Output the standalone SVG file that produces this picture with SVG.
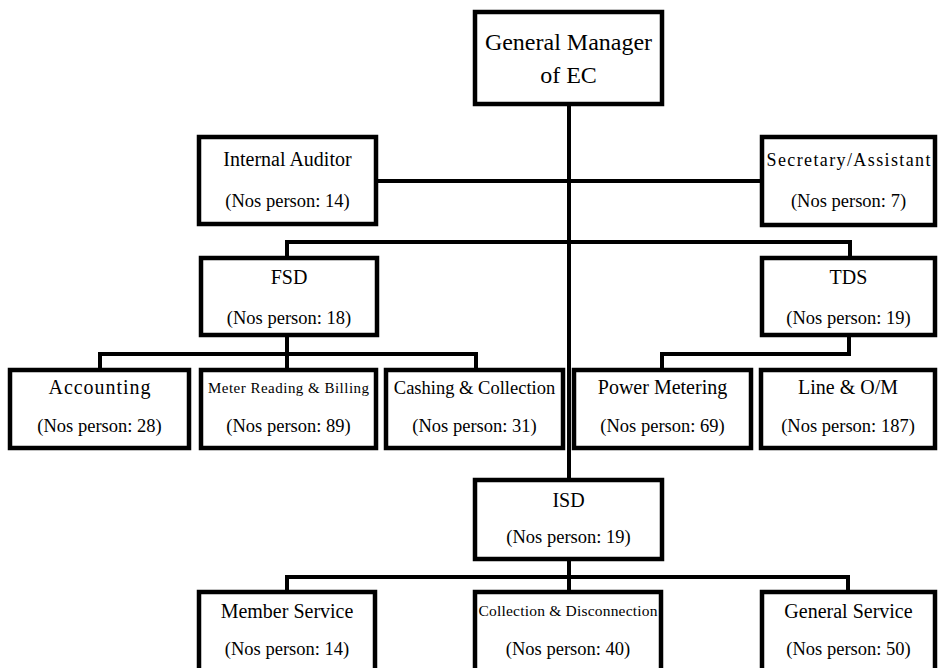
<svg xmlns="http://www.w3.org/2000/svg" width="938" height="668" viewBox="0 0 938 668" font-family="'Liberation Serif', Tinos, 'Times New Roman', Times, 'DejaVu Serif', serif">
  <style>
    .box { fill: #fff; stroke: #000; stroke-width: 4.5; }
    .wire { fill: none; stroke: #000; stroke-width: 4; stroke-linecap: butt; }
    text { font-family: "Liberation Serif", Tinos, "Times New Roman", Times, "DejaVu Serif", serif; fill: #000; text-anchor: middle; }
    .title { font-size: 20px; }
    .small { font-size: 16px; }
    .count { font-size: 18.5px; }
    .head { font-size: 24px; }
  </style>
  <rect width="938" height="668" fill="#fff"/>

  <!-- connectors -->
  <g id="connectors" class="wire">
    <path d="M569 104 V480"/>
    <path d="M376 181 H762"/>
    <path d="M287 242 H850 M287 240 V258 M850 240 V258"/>
    <path d="M287 335 V354 M98 354 H478 M100 352 V370 M287 352 V370 M476 352 V370"/>
    <path d="M849 335 V354 M660 354 H851 M662 352 V370"/>
    <path d="M569 559 V577 M285 577 H850 M287 575 V592 M569 575 V592 M848 575 V592"/>
  </g>

  <g id="general-manager">
    <rect class="box" x="475" y="12" width="187" height="92"/>
    <text class="head" x="568.5" y="50">General Manager</text>
    <text class="head" x="568.5" y="83">of EC</text>
  </g>

  <g id="internal-auditor">
    <rect class="box" x="199" y="137" width="177" height="87"/>
    <text class="title" x="287.5" y="166">Internal Auditor</text>
    <text class="count" x="287.5" y="207">(Nos person: 14)</text>
  </g>

  <g id="secretary">
    <rect class="box" x="762" y="137" width="173" height="88"/>
    <text class="title" x="848.5" y="166" textLength="164" lengthAdjust="spacing" style="font-size:18px">Secretary/Assistant</text>
    <text class="count" x="848.5" y="207">(Nos person: 7)</text>
  </g>

  <g id="fsd">
    <rect class="box" x="201" y="258" width="176" height="77"/>
    <text class="title" x="289" y="284">FSD</text>
    <text class="count" x="289" y="324">(Nos person: 18)</text>
  </g>

  <g id="tds">
    <rect class="box" x="762" y="258" width="173" height="77"/>
    <text class="title" x="848.5" y="284">TDS</text>
    <text class="count" x="848.5" y="324">(Nos person: 19)</text>
  </g>

  <g id="accounting">
    <rect class="box" x="10" y="370" width="179" height="78"/>
    <text class="title" x="99.5" y="394" textLength="102" lengthAdjust="spacing">Accounting</text>
    <text class="count" x="99.5" y="432">(Nos person: 28)</text>
  </g>

  <g id="meter-reading">
    <rect class="box" x="201" y="370" width="175" height="78"/>
    <text class="small" x="288.5" y="393" textLength="161" lengthAdjust="spacing" style="font-size:15px">Meter Reading &amp; Billing</text>
    <text class="count" x="288.5" y="432">(Nos person: 89)</text>
  </g>

  <g id="cashing">
    <rect class="box" x="386" y="370" width="177" height="78"/>
    <text class="title" x="474.5" y="394" style="font-size:18.5px">Cashing &amp; Collection</text>
    <text class="count" x="474.5" y="432">(Nos person: 31)</text>
  </g>

  <g id="power-metering">
    <rect class="box" x="574" y="370" width="177" height="78"/>
    <text class="title" x="662.5" y="394">Power Metering</text>
    <text class="count" x="662.5" y="432">(Nos person: 69)</text>
  </g>

  <g id="line-om">
    <rect class="box" x="761" y="370" width="174" height="78"/>
    <text class="title" x="848" y="394">Line &amp; O/M</text>
    <text class="count" x="848" y="432">(Nos person: 187)</text>
  </g>

  <g id="isd">
    <rect class="box" x="475" y="480" width="187" height="79"/>
    <text class="title" x="568.5" y="507">ISD</text>
    <text class="count" x="568.5" y="543">(Nos person: 19)</text>
  </g>

  <g id="member-service">
    <rect class="box" x="199" y="592" width="176" height="100"/>
    <text class="title" x="287" y="618">Member Service</text>
    <text class="count" x="287" y="655">(Nos person: 14)</text>
  </g>

  <g id="collection-disconnection">
    <rect class="box" x="475" y="592" width="186" height="100"/>
    <text class="small" x="568" y="616" textLength="179" lengthAdjust="spacing" style="font-size:15.5px">Collection &amp; Disconnection</text>
    <text class="count" x="568" y="655">(Nos person: 40)</text>
  </g>

  <g id="general-service">
    <rect class="box" x="762" y="592" width="173" height="100"/>
    <text class="title" x="848.5" y="618">General Service</text>
    <text class="count" x="848.5" y="655">(Nos person: 50)</text>
  </g>
</svg>
